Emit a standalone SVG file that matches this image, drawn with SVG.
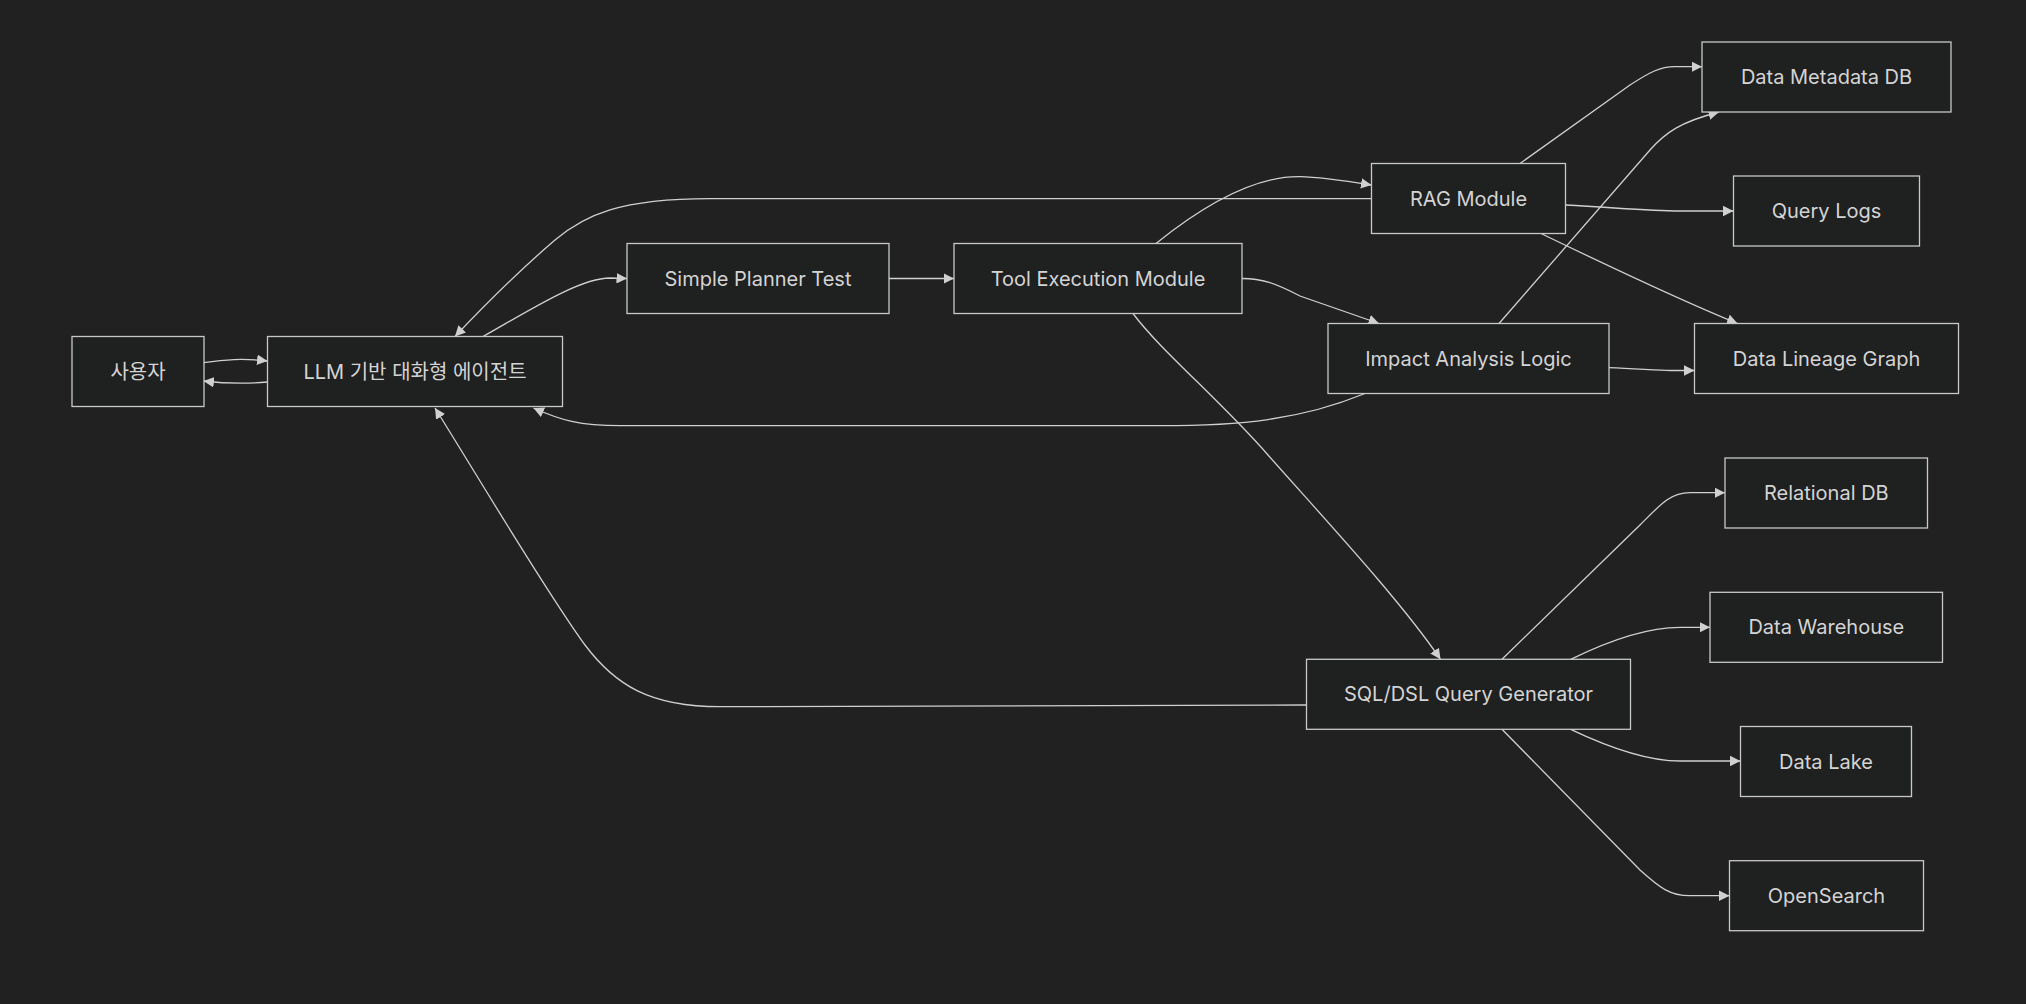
<svg xmlns="http://www.w3.org/2000/svg" width="2026" height="1004" viewBox="0 0 2026 1004">
<style>
.bg{fill:#212121}
.node rect{fill:#1f2020;stroke:#c8c8c8;stroke-width:1.3}
.node text{fill:#d4d4d4;font-family:Inter,"Noto Sans CJK KR",sans-serif;font-size:20px;text-anchor:middle;dominant-baseline:central}
.edges path{fill:none;stroke:#d0d0d0;stroke-width:1.3;marker-end:url(#arrow)}
</style>
<defs>
<marker id="arrow" viewBox="0 0 10 10" refX="10" refY="5" markerUnits="userSpaceOnUse" markerWidth="10.5" markerHeight="10.5" orient="auto">
<path d="M0,0 L10,5 L0,10 z" fill="#d0d0d0"/>
</marker>
</defs>
<rect class="bg" x="0" y="0" width="2026" height="1004"/>
<g class="edges">
<path d="M203.5,362.7 C225,359.5 242,358 267.5,361"/>
<path d="M267.5,382 C245,384 225,383.5 203.5,381"/>
<path d="M483,336.5 C530,310 580,278 610,278 L627,278.5"/>
<path d="M889,278.5 L954,278.5"/>
<path d="M1156,243.5 C1210,200 1260,176 1300,176.7 C1320,177 1340,180 1371.5,185"/>
<path d="M1242,278.5 C1262,278.5 1275,283 1300,296 L1379,323.5"/>
<path d="M1133,313.5 C1160,350 1220,400 1268,455 C1330,525 1400,600 1440.5,659.3"/>
<path d="M1371.5,198.7 L710,198.7 C620,198.7 585,215 555,240 C520,270 480,310 455,336.5"/>
<path d="M1520,163.5 L1630,85 C1650,72 1660,66.7 1675,66.7 L1702,66.7"/>
<path d="M1565.5,205 C1620,208 1650,211 1680,211 L1733.5,211"/>
<path d="M1541,233.5 C1600,262 1680,300 1737.5,323.5"/>
<path d="M1499,323.5 L1650,150 C1665,133 1680,122 1719,112"/>
<path d="M1608.5,367.7 C1640,369 1660,370.5 1670,370.5 L1694.5,370.5"/>
<path d="M1365,393.5 C1300,420 1240,425.7 1160,425.7 L620,425.7 C580,425.7 560,420 533.5,408"/>
<path d="M1502,659.3 L1640,525 C1660,505 1670,492.7 1690,492.7 L1725,492.7"/>
<path d="M1570.7,659.3 C1610,640 1650,627.3 1680,627.3 L1710,627.3"/>
<path d="M1570.7,729.3 C1610,748 1650,761 1680,761 L1740.5,761"/>
<path d="M1502,729.3 L1640,870 C1660,888 1670,895.7 1690,895.7 L1729.5,895.7"/>
<path d="M1306.5,705 L720,706.7 C650,706.7 615,685 585,645 C545,590 480,480 435,408"/>
</g>
<g id="user" class="node"><rect x="72" y="336.5" width="132" height="70"/><text x="138" y="371.5">사용자</text></g>
<g id="llm" class="node"><rect x="267.5" y="336.5" width="295" height="70"/><text x="415" y="371.5">LLM 기반 대화형 에이전트</text></g>
<g id="planner" class="node"><rect x="627" y="243.5" width="262" height="70"/><text x="758" y="278.5">Simple Planner Test</text></g>
<g id="tool" class="node"><rect x="954" y="243.5" width="288" height="70"/><text x="1098" y="278.5">Tool Execution Module</text></g>
<g id="rag" class="node"><rect x="1371.5" y="163.5" width="194" height="70"/><text x="1468.5" y="198.5">RAG Module</text></g>
<g id="impact" class="node"><rect x="1328" y="323.5" width="281" height="70"/><text x="1468.5" y="358.5">Impact Analysis Logic</text></g>
<g id="sqlgen" class="node"><rect x="1306.5" y="659.3" width="324" height="70"/><text x="1468.5" y="694.3">SQL/DSL Query Generator</text></g>
<g id="metadb" class="node"><rect x="1702" y="42" width="249" height="70"/><text x="1826.5" y="77">Data Metadata DB</text></g>
<g id="querylogs" class="node"><rect x="1733.5" y="176" width="186" height="70"/><text x="1826.5" y="211">Query Logs</text></g>
<g id="lineage" class="node"><rect x="1694.5" y="323.5" width="264" height="70"/><text x="1826.5" y="358.5">Data Lineage Graph</text></g>
<g id="reldb" class="node"><rect x="1725" y="458" width="202.5" height="70"/><text x="1826.3" y="493">Relational DB</text></g>
<g id="dwh" class="node"><rect x="1710" y="592.3" width="232.5" height="70"/><text x="1826.3" y="627.3">Data Warehouse</text></g>
<g id="lake" class="node"><rect x="1740.5" y="726.5" width="171" height="70"/><text x="1826" y="761.5">Data Lake</text></g>
<g id="opensearch" class="node"><rect x="1729.5" y="860.7" width="194" height="70"/><text x="1826.5" y="895.7">OpenSearch</text></g>
</svg>
